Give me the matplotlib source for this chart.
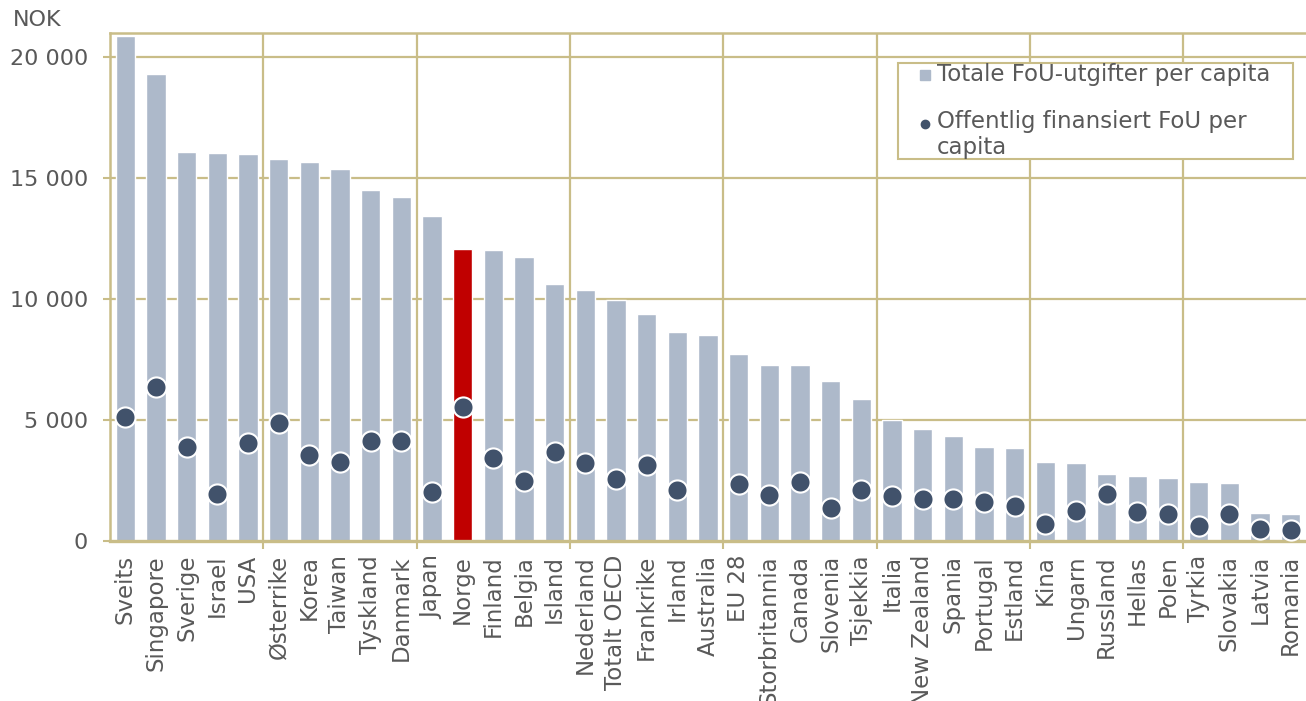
import numpy as np
import matplotlib
matplotlib.use("Agg")
import matplotlib.pyplot as plt
from matplotlib.lines import Line2D
from matplotlib.patches import Rectangle

# ============================================================
# Data (NOK per capita)
# ============================================================

countries = [
    "Sveits", "Singapore", "Sverige", "Israel", "USA",
    "Østerrike", "Korea", "Taiwan", "Tyskland", "Danmark",
    "Japan", "Norge", "Finland", "Belgia", "Island",
    "Nederland", "Totalt OECD", "Frankrike", "Irland", "Australia",
    "EU 28", "Storbritannia", "Canada", "Slovenia", "Tsjekkia",
    "Italia", "New Zealand", "Spania", "Portugal", "Estland",
    "Kina", "Ungarn", "Russland", "Hellas", "Polen",
    "Tyrkia", "Slovakia", "Latvia", "Romania",
]

total_rd = [
    20870, 19300, 16070, 16020, 15980,
    15780, 15650, 15360, 14490, 14240,
    13430, 12080, 12050, 11720, 10640,
    10380, 9980, 9400, 8620, 8530,
    7740, 7260, 7260, 6630, 5880,
    4990, 4620, 4340, 3900, 3840,
    3280, 3240, 2790, 2700, 2620,
    2440, 2410, 1150, 1120,
]

public_rd = [
    5120, 6360, 3880, 1930, 4040,
    4870, 3560, 3280, 4150, 4130,
    2040, 5530, 3450, 2500, 3670,
    3220, 2550, 3130, 2120, np.nan,
    2350, 1890, 2440, 1370, 2120,
    1840, 1730, 1730, 1600, 1460,
    690, 1240, 1930, 1190, 1100,
    630, 1100, 510, 460,
]

y_ticks = [0, 5000, 10000, 15000, 20000]
y_tick_labels = ["0", "5 000", "10 000", "15 000", "20 000"]

legend_labels = [
    "Totale FoU-utgifter per capita",
    "Offentlig finansiert FoU per\ncapita",
]

# ============================================================
# Style
# ============================================================

BAR = "#ADB9CA"
HIGHLIGHT = "#C00000"
DOT = "#41526B"
GRID = "#C9BD88"
TEXT = "#595959"
W, H = 1306, 701

plt.rcParams["font.family"] = ["DejaVu Sans"]

fig = plt.figure(figsize=(W / 100, H / 100), dpi=100)
ax = fig.add_axes([110 / W, 1 - 541 / H, 1 - 110 / W, (541 - 33) / H])

x = np.arange(len(countries))
colors = [HIGHLIGHT if c == "Norge" else BAR for c in countries]

ax.bar(
    x,
    total_rd,
    width=0.63,
    color=colors,
    edgecolor="white",
    linewidth=1.0,
    zorder=2
)

ax.plot(
    x,
    public_rd,
    linestyle="none",
    marker="o",
    markersize=14.5,
    markerfacecolor=DOT,
    markeredgecolor="white",
    markeredgewidth=1.5,
    zorder=3
)

# ============================================================
# Axes
# ============================================================

ax.set_xlim(-0.5, len(countries) - 0.5)
ax.set_ylim(0, 21000)

ax.set_yticks(y_ticks)
ax.set_yticklabels(y_tick_labels)

ax.set_xticks(x)
ax.set_xticklabels(countries, rotation=90, va="top", ha="center")

group_edges = np.arange(4.5, len(countries) - 1, 5)
ax.set_xticks(group_edges, minor=True)

ax.tick_params(axis="x", which="major", length=0, pad=10,
               labelsize=16.5, labelcolor=TEXT)
ax.tick_params(axis="x", which="minor", length=6, width=1.5,
               color=GRID, direction="out")
ax.tick_params(axis="y", length=5, width=1.5, color=GRID, pad=11,
               labelsize=16, labelcolor=TEXT)

for yv in y_ticks[1:]:
    ax.axhline(yv, color=GRID, linewidth=1.6, zorder=1)
for xv in group_edges:
    ax.axvline(xv, color=GRID, linewidth=1.6, zorder=1)

for side in ["left", "top"]:
    ax.spines[side].set_color(GRID)
    ax.spines[side].set_linewidth(1.8)
ax.spines["bottom"].set_color(GRID)
ax.spines["bottom"].set_linewidth(2.4)
ax.spines["right"].set_visible(False)

fig.text(13 / W, 1 - 20 / H, "NOK", fontsize=16, color=TEXT,
         ha="left", va="center")

# ============================================================
# Legend (drawn by hand so the dot sits on the first text line)
# ============================================================

fig.add_artist(Rectangle(
    (898 / W, 1 - 159 / H),
    (1293 - 898) / W,
    (159 - 63) / H,
    transform=fig.transFigure,
    facecolor="white",
    edgecolor=GRID,
    linewidth=1.5,
    zorder=5
))

fig.add_artist(Line2D(
    [925 / W], [1 - 75 / H], transform=fig.transFigure,
    linestyle="none", marker="s", markersize=7.5,
    markerfacecolor=BAR, markeredgecolor=BAR, zorder=6
))
fig.add_artist(Line2D(
    [925 / W], [1 - 124 / H], transform=fig.transFigure,
    linestyle="none", marker="o", markersize=6,
    markerfacecolor=DOT, markeredgecolor=DOT, zorder=6
))

fig.text(937 / W, 1 - 75 / H, legend_labels[0], fontsize=16.5,
         color=TEXT, ha="left", va="center", zorder=6)
fig.text(937 / W, 1 - 110 / H, legend_labels[1], fontsize=16.5,
         color=TEXT, ha="left", va="top", linespacing=1.15, zorder=6)

fig.savefig("out.png", dpi=100)
